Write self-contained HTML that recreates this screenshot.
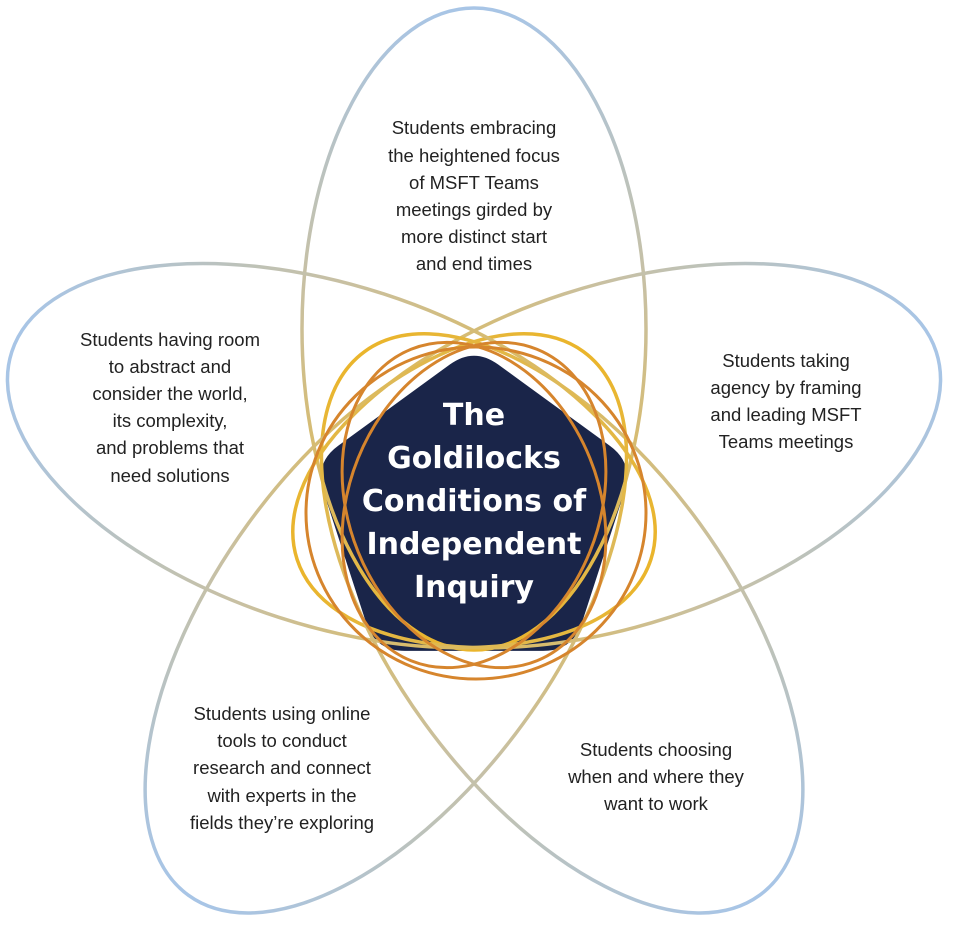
<!DOCTYPE html>
<html><head><meta charset="utf-8"><style>
html,body{margin:0;padding:0;background:#fff;width:953px;height:934px;overflow:hidden;}
svg{display:block;}
.t{font-family:"Liberation Sans",sans-serif;font-size:18.5px;fill:#222;text-anchor:middle;}
.c{font-family:"DejaVu Sans","Liberation Sans",sans-serif;font-weight:bold;font-size:30px;fill:#fff;text-anchor:middle;}
</style></head><body>
<svg width="953" height="934" viewBox="0 0 953 934">
<defs>
<linearGradient id="g" x1="0" y1="0" x2="0" y2="1">
<stop offset="0" stop-color="#a8c5e6"/>
<stop offset="0.45" stop-color="#c9c0a0"/>
<stop offset="1" stop-color="#eab52c"/>
</linearGradient>
</defs>
<path d="M498,364.4 L609.8,445.7 Q633.8,463.1 624.6,491.3 L581.9,622.7 Q572.7,650.9 543.1,650.9 L404.9,650.9 Q375.3,650.9 366.1,622.7 L323.4,491.3 Q314.2,463.1 338.2,445.7 L450,364.4 Q474,347 498,364.4 Z" fill="#1a2549"/>
<g fill="none" stroke="url(#g)" stroke-width="3.5">
<ellipse cx="474" cy="329" rx="172" ry="321"/>
<ellipse cx="474" cy="352" rx="170" ry="336" transform="rotate(72 474 502)"/>
<ellipse cx="474" cy="352" rx="170" ry="336" transform="rotate(144 474 502)"/>
<ellipse cx="474" cy="352" rx="170" ry="336" transform="rotate(216 474 502)"/>
<ellipse cx="474" cy="352" rx="170" ry="336" transform="rotate(288 474 502)"/>
</g>
<g fill="none" stroke="#d6852d" stroke-width="3">
<ellipse cx="476" cy="513" rx="170" ry="166"/>
<ellipse cx="474" cy="505" rx="125" ry="168" transform="rotate(22 474 505)"/>
<ellipse cx="474" cy="505" rx="125" ry="168" transform="rotate(-22 474 505)"/>
</g>
<text class="c"><tspan x="474" y="425">The</tspan><tspan x="474" y="468">Goldilocks</tspan><tspan x="474" y="511">Conditions of</tspan><tspan x="474" y="554">Independent</tspan><tspan x="474" y="597">Inquiry</tspan></text>
<text class="t"><tspan x="474" y="134">Students embracing</tspan><tspan x="474" y="162">the heightened focus</tspan><tspan x="474" y="189">of MSFT Teams</tspan><tspan x="474" y="216">meetings girded by</tspan><tspan x="474" y="243">more distinct start</tspan><tspan x="474" y="270">and end times</tspan></text>
<text class="t"><tspan x="170" y="346">Students having room</tspan><tspan x="170" y="373">to abstract and</tspan><tspan x="170" y="400">consider the world,</tspan><tspan x="170" y="427">its complexity,</tspan><tspan x="170" y="454">and problems that</tspan><tspan x="170" y="482">need solutions</tspan></text>
<text class="t"><tspan x="786" y="367">Students taking</tspan><tspan x="786" y="394">agency by framing</tspan><tspan x="786" y="421">and leading MSFT</tspan><tspan x="786" y="448">Teams meetings</tspan></text>
<text class="t"><tspan x="282" y="720">Students using online</tspan><tspan x="282" y="747">tools to conduct</tspan><tspan x="282" y="774">research and connect</tspan><tspan x="282" y="802">with experts in the</tspan><tspan x="282" y="829">fields they’re exploring</tspan></text>
<text class="t"><tspan x="656" y="756">Students choosing</tspan><tspan x="656" y="783">when and where they</tspan><tspan x="656" y="810">want to work</tspan></text>
</svg>
</body></html>
